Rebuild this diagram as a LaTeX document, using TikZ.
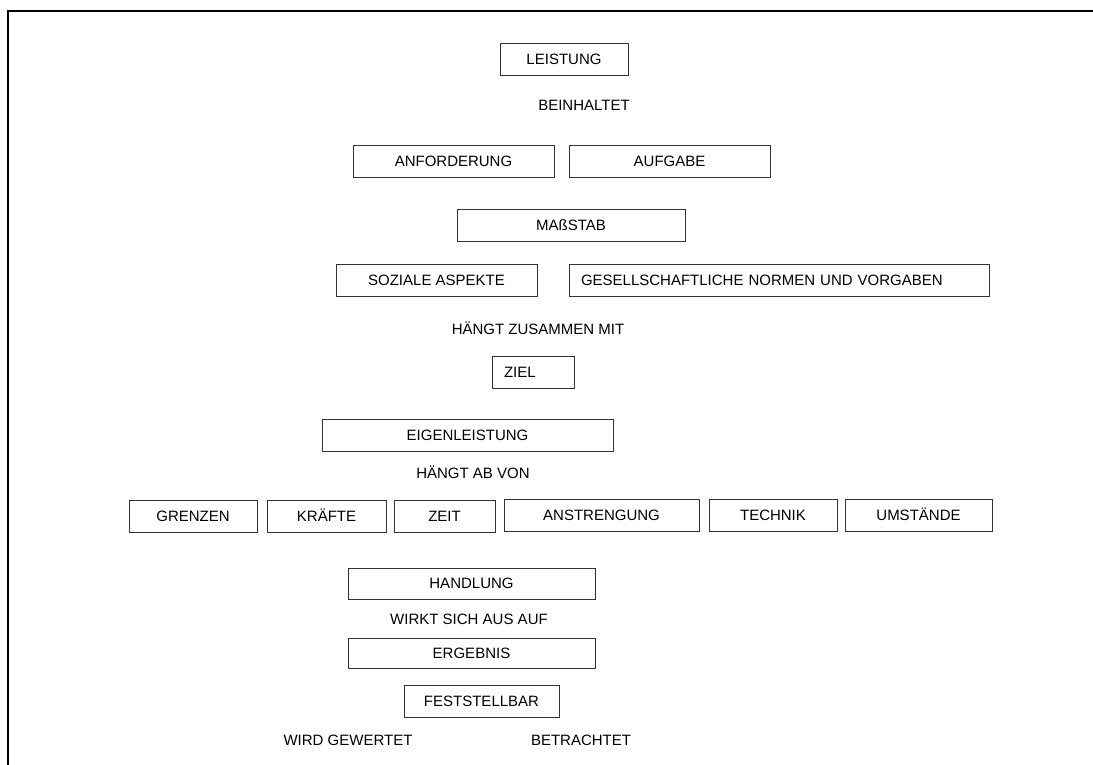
\documentclass[tikz,border=0pt]{standalone}
\usepackage{fontspec}
\setmainfont{Liberation Sans}
\begin{document}
\begin{tikzpicture}[x=1pt,y=-1pt,
  every node/.style={font=\fontsize{15}{18}\selectfont, text=black, text height=10.7pt, text depth=0pt, inner sep=0pt},
  boxc/.style={draw=black!80, line width=1pt, fill=white},
  lbl/.style={}]
\useasboundingbox (0,0) rectangle (1093,764);
% frame (left and top edges)
\coordinate (ftl) at (8.3,11.2);
\coordinate (fbl) at (8.3,766);
\coordinate (ftr) at (1095,11.2);
\draw[line width=2.3pt] (fbl) -- (ftl) -- (ftr);
% centred boxes: \cbox{name}{x1}{y1}{x2}{y2}{text}
\newcommand{\cbox}[6]{%
  \node[boxc, minimum width={#4-#2}, minimum height={#5-#3}] (#1) at ({(#2+#4)/2},{(#3+#5)/2}) {#6};}
\newcommand{\lbox}[6]{%
  \node[boxc, inner xsep=12pt, text width={#4-#2-24}, align=left, minimum height={#5-#3}] (#1) at ({(#2+#4)/2},{(#3+#5)/2}) {#6};}
\cbox{leistung}{500}{43}{628}{75}{LEISTUNG}
\node[lbl] (beinhaltet) at (584,105) {BEINHALTET};
\cbox{anforderung}{353}{145}{554}{177}{ANFORDERUNG}
\cbox{aufgabe}{569}{145}{770}{177}{AUFGABE}
\cbox{massstab}{457}{209}{685}{241}{MAßSTAB}
\cbox{sozial}{336}{264}{537}{296}{SOZIALE ASPEKTE}
\lbox{normen}{569}{264}{989}{296}{GESELLSCHAFTLICHE NORMEN UND VORGABEN}
\node[lbl] (zusammen) at (538,329) {HÄNGT ZUSAMMEN MIT};
\lbox{ziel}{492}{356}{574}{388}{ZIEL}
\cbox{eigen}{322}{419}{613}{451}{EIGENLEISTUNG}
\node[lbl] (abvon) at (473,473) {HÄNGT AB VON};
\cbox{grenzen}{129}{500}{257}{532}{GRENZEN}
\cbox{kraefte}{267}{500}{386}{532}{KRÄFTE}
\cbox{zeit}{394}{500}{495}{532}{ZEIT}
\cbox{anstrengung}{504}{499}{699}{531}{ANSTRENGUNG}
\cbox{technik}{709}{499}{837}{531}{TECHNIK}
\cbox{umstaende}{845}{499}{992}{531}{UMSTÄNDE}
\cbox{handlung}{348}{568}{595}{599}{HANDLUNG}
\node[lbl] (wirkt) at (469,619) {WIRKT SICH AUS AUF};
\cbox{ergebnis}{348}{638}{595}{668}{ERGEBNIS}
\cbox{feststellbar}{404}{685}{559}{717}{FESTSTELLBAR}
\node[lbl] (gewertet) at (348,740) {WIRD GEWERTET};
\node[lbl] (betrachtet) at (581,740) {BETRACHTET};
\end{tikzpicture}
\end{document}
